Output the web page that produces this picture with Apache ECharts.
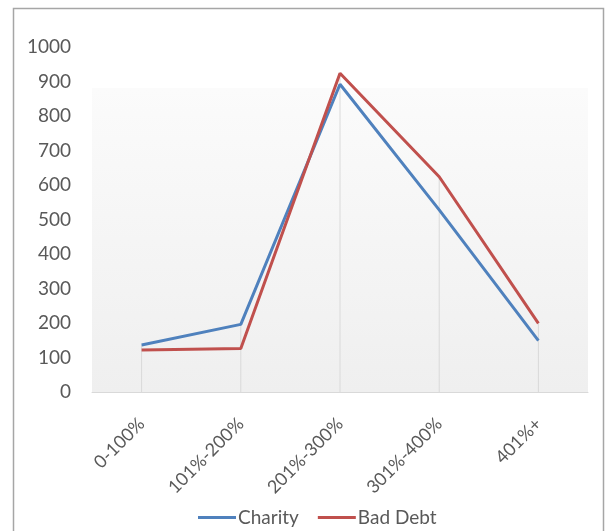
<!DOCTYPE html>
<html>
<head>
<meta charset="utf-8">
<script src="https://cdn.jsdelivr.net/npm/echarts@6/dist/echarts.min.js"></script>
<style>
html,body{margin:0;padding:0;background:#fff;}
#chart{width:611px;height:531px;}
</style>
</head>
<body>
<div id="chart"></div>
<script>
const categories = ['0-100%', '101%-200%', '201%-300%', '301%-400%', '401%+'];
const charity = [136, 196, 892, 528, 149];
const badDebt = [122, 126, 924, 624, 199];
const yTicks = { min: 0, max: 1000, interval: 100 };

const dropLines = categories.map((c, i) => Math.max(charity[i], badDebt[i]));
const FONT = 'Lato';

const chart = echarts.init(document.getElementById('chart'), null, { renderer: 'canvas' });
chart.setOption({
  backgroundColor: '#ffffff',
  animation: false,
  textStyle: { fontFamily: FONT },
  graphic: [{
    type: 'rect',
    shape: { x: 13.5, y: 8.5, width: 590, height: 540 },
    style: { fill: 'none', stroke: '#a6a6a6', lineWidth: 1.5 },
    silent: true, z: 100
  }],
  grid: {
    left: 92, right: 23, top: 47, bottom: 139,
    show: true, borderWidth: 0,
    backgroundColor: new echarts.graphic.LinearGradient(0, 0, 0, 1, [
      { offset: 0, color: '#ffffff' },
      { offset: 0.118, color: '#ffffff' },
      { offset: 0.12, color: '#fbfbfb' },
      { offset: 1, color: '#efefef' }
    ])
  },
  legend: {
    left: 193, top: 503,
    itemWidth: 38, itemHeight: 3, itemGap: 19,
    icon: 'rect',
    textStyle: { fontFamily: FONT, fontSize: 19, color: '#595959', padding: [0, 0, 0, -3] },
    data: ['Charity', 'Bad Debt']
  },
  xAxis: {
    type: 'category',
    data: categories,
    boundaryGap: true,
    axisLine: { show: true, lineStyle: { color: '#d9d9d9', width: 1 } },
    axisTick: { show: false },
    splitLine: { show: false },
    axisLabel: { rotate: 45, margin: 29, fontFamily: FONT, fontSize: 18, color: '#595959', interval: 0 }
  },
  yAxis: {
    type: 'value',
    min: yTicks.min, max: yTicks.max, interval: yTicks.interval,
    axisLine: { show: false },
    axisTick: { show: false },
    splitLine: { show: false },
    axisLabel: { margin: 21, fontFamily: FONT, fontSize: 19, color: '#595959', formatter: v => String(v) }
  },
  series: [
    {
      name: 'drop', type: 'bar', data: dropLines, barWidth: 1, silent: true,
      itemStyle: { color: '#d9d9d9' }, z: 1, legendHoverLink: false
    },
    {
      name: 'Charity', type: 'line', data: charity, symbol: 'none',
      lineStyle: { color: '#4f81bd', width: 3 }, itemStyle: { color: '#4f81bd' }, z: 3
    },
    {
      name: 'Bad Debt', type: 'line', data: badDebt, symbol: 'none',
      lineStyle: { color: '#c0504d', width: 3 }, itemStyle: { color: '#c0504d' }, z: 4
    }
  ]
});
</script>
</body>
</html>
